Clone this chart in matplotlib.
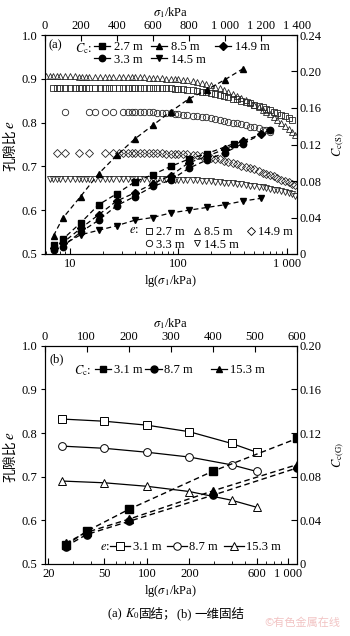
import matplotlib
matplotlib.use("Agg")
import matplotlib.pyplot as plt
from matplotlib.lines import Line2D
from matplotlib.offsetbox import TextArea, HPacker, AnnotationBbox
from matplotlib.ticker import FixedLocator, FixedFormatter, LogLocator, NullFormatter

plt.rcParams["font.family"] = ["Liberation Serif", "Noto Sans CJK SC"]
plt.rcParams["mathtext.fontset"] = "stix"
plt.rcParams["font.size"] = 9
CJK = ["Noto Sans CJK SC", "DejaVu Sans"]

# ---------------- (a) K0 consolidation ----------------
# void ratio e vs sigma1 (log axis)
k0_sigma = [6, 6.5, 7, 7.5, 8, 9, 10, 11, 12, 13, 14, 15, 17, 19, 21, 23, 25, 28, 31, 34,
            37, 40, 44, 48, 53, 58, 64, 70, 77, 85, 93, 100, 110, 120, 135, 150, 165, 180, 200, 220,
            240, 265, 290, 320, 350, 380, 420, 460, 500, 550, 600, 650, 700, 760, 820, 890, 960, 1040, 1120, 1200]

e_sig_85 = k0_sigma
e_85 = [0.906, 0.906, 0.906, 0.906, 0.906, 0.906, 0.906, 0.906, 0.905, 0.905, 0.905, 0.905, 0.905, 0.905,
        0.905, 0.905, 0.905, 0.904, 0.904, 0.904, 0.904, 0.903, 0.903, 0.903, 0.902, 0.902, 0.901, 0.901,
        0.900, 0.900, 0.899, 0.899, 0.898, 0.897, 0.895, 0.893, 0.891, 0.888, 0.885, 0.882, 0.879, 0.874,
        0.870, 0.866, 0.861, 0.857, 0.851, 0.846, 0.840, 0.835, 0.829, 0.824, 0.819, 0.813, 0.806, 0.799,
        0.792, 0.785, 0.778, 0.771]

e_sig_145 = k0_sigma[1:]
e_145 = [0.672] * 25 + [0.671, 0.671, 0.671, 0.670, 0.670, 0.670, 0.670, 0.669, 0.669, 0.668, 0.667,
                        0.667, 0.666, 0.665, 0.664, 0.663, 0.662, 0.661, 0.660, 0.659, 0.658, 0.656,
                        0.655, 0.654, 0.652, 0.651, 0.649, 0.647, 0.645, 0.643, 0.641, 0.639, 0.636, 0.633]

e_sig_27 = k0_sigma[2:59]
e_27 = [0.880] * 24 + [0.879, 0.879, 0.878, 0.878, 0.877, 0.877, 0.876, 0.875, 0.874, 0.872, 0.871,
                       0.869, 0.867, 0.865, 0.863, 0.860, 0.858, 0.855, 0.853, 0.850, 0.847, 0.844,
                       0.841, 0.838, 0.835, 0.831, 0.828, 0.825, 0.821, 0.817, 0.814, 0.810, 0.806]

e_sig_33 = [9, 15, 17, 21, 25] + k0_sigma[18:53]
e_33 = [0.825] * 11 + [0.824, 0.824, 0.823, 0.822, 0.822, 0.821, 0.820, 0.819, 0.818, 0.817, 0.816,
                       0.814, 0.813, 0.812, 0.810, 0.808, 0.806, 0.804, 0.802, 0.800, 0.798, 0.796,
                       0.794, 0.791, 0.789, 0.787, 0.784, 0.782, 0.779]

e_sig_149 = [7.5, 9, 12, 15, 21] + k0_sigma[16:]
e_149 = [0.731] * 11 + [0.730, 0.730, 0.730, 0.730, 0.730, 0.730, 0.729, 0.729, 0.729, 0.729,
                        0.728, 0.728, 0.727, 0.725, 0.724, 0.722, 0.720, 0.718, 0.716, 0.713, 0.710,
                        0.708, 0.705, 0.702, 0.699, 0.696, 0.693, 0.689, 0.686, 0.683, 0.680, 0.677,
                        0.674, 0.670, 0.667, 0.664, 0.660, 0.657]

# compression index Cc(S) vs sigma1 (linear top axis)
cc_sig_27 = [50, 100, 200, 300, 400, 500, 600, 700, 800, 900, 1050]
cc_27 = [0.010, 0.016, 0.034, 0.054, 0.066, 0.079, 0.087, 0.096, 0.104, 0.110, 0.121]
cc_sig_33 = [50, 100, 200, 300, 400, 500, 600, 700, 800, 900, 1000, 1100, 1250]
cc_33 = [0.004, 0.008, 0.024, 0.037, 0.053, 0.063, 0.074, 0.081, 0.094, 0.103, 0.111, 0.121, 0.136]
cc_sig_85 = [50, 100, 200, 300, 400, 500, 600, 700, 800, 900, 1000, 1100]
cc_85 = [0.020, 0.039, 0.063, 0.088, 0.108, 0.126, 0.141, 0.156, 0.170, 0.180, 0.191, 0.203]
cc_sig_145 = [50, 100, 200, 300, 400, 500, 600, 700, 800, 900, 1000, 1100, 1200]
cc_145 = [0.006, 0.010, 0.021, 0.026, 0.031, 0.037, 0.040, 0.045, 0.048, 0.051, 0.054, 0.058, 0.061]
cc_sig_149 = [50, 100, 200, 300, 400, 500, 600, 700, 800, 900, 1000, 1100, 1200]
cc_149 = [0.007, 0.012, 0.028, 0.043, 0.058, 0.067, 0.077, 0.086, 0.100, 0.107, 0.115, 0.124, 0.131]

# ---------------- (b) 1-D consolidation ----------------
oed_sigma = [25, 50, 100, 200, 400, 600]
oed_e_31 = [0.832, 0.827, 0.818, 0.803, 0.776, 0.756]
oed_e_87 = [0.770, 0.765, 0.756, 0.745, 0.727, 0.712]
oed_e_153 = [0.690, 0.686, 0.678, 0.666, 0.646, 0.630]

oed_cc_sigma = [50, 100, 200, 400, 600]
oed_cc_31 = [0.017, 0.030, 0.050, 0.085, 0.115]
oed_cc_87 = [0.016, 0.027, 0.039, 0.063, 0.088]
oed_cc_153 = [0.019, 0.029, 0.041, 0.067, 0.091]

fig = plt.figure(figsize=(3.5, 6.36), dpi=100)
W, H = 350.0, 636.0


def rect(x0, x1, ytop, ybot):
    return [x0 / W, 1 - ybot / H, (x1 - x0) / W, (ybot - ytop) / H]


def ylabel_e(ycenter):
    # 孔隙比 + italic e, drawn as two rotated pieces
    yb = ycenter - 15
    fig.text(10 / W, 1 - yb / H, "孔隙比", rotation=90, ha="center", va="top",
             fontsize=10, family=CJK)
    fig.text(11 / W, 1 - (yb - 0.5) / H, r"$e$", rotation=90, ha="center", va="bottom", fontsize=11)


def setup(r, xlim_log, bticks, blabels, top_max, tticks, tlabels, cc_max, cticks, clabels, ccname):
    ax = fig.add_axes(r)
    ax.set_xscale("log")
    ax.set_xlim(*xlim_log)
    ax.set_ylim(0.5, 1.0)
    ax.xaxis.set_major_locator(FixedLocator(bticks))
    ax.xaxis.set_major_formatter(FixedFormatter(blabels))
    ax.xaxis.set_minor_locator(LogLocator(subs=range(2, 10)))
    ax.xaxis.set_minor_formatter(NullFormatter())
    ax.set_yticks([0.5, 0.6, 0.7, 0.8, 0.9, 1.0])
    ax.set_yticklabels(["0.5", "0.6", "0.7", "0.8", "0.9", "1.0"])
    ax.tick_params(axis="x", which="major", direction="in", length=4, pad=3, top=False)
    ax.tick_params(axis="x", which="minor", direction="in", length=2, top=False)
    ax.tick_params(axis="y", direction="out", length=3, pad=2, right=False)
    ax.set_xlabel(r"lg($\sigma_1$/kPa)", labelpad=2)

    ax2 = fig.add_axes(r, facecolor="none")
    ax2.set_xlim(0, top_max)
    ax2.set_ylim(0, cc_max)
    ax2.xaxis.set_ticks_position("top")
    ax2.xaxis.set_label_position("top")
    ax2.yaxis.set_ticks_position("right")
    ax2.yaxis.set_label_position("right")
    ax2.set_xticks(tticks)
    ax2.set_xticklabels(tlabels)
    ax2.set_yticks(cticks)
    ax2.set_yticklabels(clabels)
    ax2.tick_params(axis="x", direction="in", length=4, pad=2)
    ax2.tick_params(axis="y", direction="in", length=4, pad=2)
    ax2.set_xlabel(r"$\sigma_1$/kPa", labelpad=3)
    ax2.set_ylabel(ccname, labelpad=6)
    return ax, ax2


# ---- panel (a)
axa, axa2 = setup(rect(44.5, 297, 35, 254), (5.8, 1245), [10, 100, 1000], ["10", "100", "1 000"],
                  1400, [0, 200, 400, 600, 800, 1000, 1200, 1400],
                  ["0", "200", "400", "600", "800", "1 000", "1 200", "1 400"],
                  0.24, [0, 0.04, 0.08, 0.12, 0.16, 0.20, 0.24],
                  ["0", "0.04", "0.08", "0.12", "0.16", "0.20", "0.24"], r"$C_{\mathrm{c(S)}}$")
ylabel_e(144.5)

open_kw = dict(ls="none", mfc="none", mec="0.15", mew=0.6, ms=4.6)
axa.plot(e_sig_27, e_27, marker="s", **open_kw)
axa.plot(e_sig_33, e_33, marker="o", **open_kw)
axa.plot(e_sig_85, e_85, marker="^", **open_kw)
axa.plot(e_sig_145, e_145, marker="v", **open_kw)
axa.plot(e_sig_149, e_149, marker="D", **dict(open_kw, ms=4.0))

dash = (0, (4, 2.5))
fill_kw = dict(color="k", ls=dash, lw=0.9, ms=4.6)
axa2.plot(cc_sig_27, cc_27, marker="s", **fill_kw)
axa2.plot(cc_sig_33, cc_33, marker="o", **fill_kw)
axa2.plot(cc_sig_85, cc_85, marker="^", **fill_kw)
axa2.plot(cc_sig_145, cc_145, marker="v", **fill_kw)
axa2.plot(cc_sig_149, cc_149, marker="D", **dict(fill_kw, ms=4.0))

axa2.text(0.015, 0.955, "(a)", transform=axa2.transAxes, va="center", ha="left")
axa2.text(0.12, 0.94, r"$C_{\mathrm{c}}$:", transform=axa2.transAxes, va="center", ha="left")
h_cc = [Line2D([], [], color="k", lw=0.9, marker=m, ms=ms) for m, ms in
        [("s", 4.6), ("o", 4.6), ("^", 4.6), ("v", 4.6), ("D", 4.0)]]
h_e = [Line2D([], [], ls="none", marker=m, mfc="none", mec="k", mew=0.6, ms=ms) for m, ms in
       [("s", 4.6), ("o", 4.6), ("^", 4.6), ("v", 4.6), ("D", 4.0)]]
depths_a = ["2.7 m", "3.3 m", "8.5 m", "14.5 m", "14.9 m"]

lg1 = axa2.legend(h_cc, depths_a, ncol=3, loc="upper left",
                  bbox_to_anchor=(0.195, 0.972), frameon=False, handlelength=1.3, handletextpad=0.3,
                  columnspacing=0.7, labelspacing=0.05, borderpad=0, borderaxespad=0)
axa2.add_artist(lg1)
axa2.text(0.335, 0.11, r"$e$:", transform=axa2.transAxes, va="center", ha="left")
axa2.legend(h_e, depths_a, ncol=3, loc="lower left",
            bbox_to_anchor=(0.395, 0.015), frameon=False, handlelength=0.7, handletextpad=0.25,
            columnspacing=0.6, labelspacing=0.05, borderpad=0, borderaxespad=0)

# ---- panel (b)
axb, axb2 = setup(rect(44.5, 297, 345.7, 564), (18.8, 1160), [20, 50, 100, 200, 600, 1000],
                  ["20", "50", "100", "200", "600", "1 000"],
                  600, [0, 100, 200, 300, 400, 500, 600],
                  ["0", "100", "200", "300", "400", "500", "600"],
                  0.20, [0, 0.04, 0.08, 0.12, 0.16, 0.20],
                  ["0", "0.04", "0.08", "0.12", "0.16", "0.20"], r"$C_{\mathrm{c(G)}}$")
ylabel_e(455)

ob_kw = dict(color="k", lw=0.9, mfc="white", mec="k", mew=0.7, ms=5.6)
axb.plot(oed_sigma, oed_e_31, marker="s", **ob_kw)
axb.plot(oed_sigma, oed_e_87, marker="o", **ob_kw)
axb.plot(oed_sigma, oed_e_153, marker="^", **ob_kw)

fb_kw = dict(color="k", ls=dash, lw=1.0, ms=5.2)
axb2.plot(oed_cc_sigma, oed_cc_31, marker="s", **fb_kw)
axb2.plot(oed_cc_sigma, oed_cc_87, marker="o", **fb_kw)
axb2.plot(oed_cc_sigma, oed_cc_153, marker="^", **fb_kw)

axb2.text(0.02, 0.94, "(b)", transform=axb2.transAxes, va="center", ha="left")
axb2.text(0.115, 0.888, r"$C_{\mathrm{c}}$:", transform=axb2.transAxes, va="center", ha="left")
hb_cc = [Line2D([], [], color="k", lw=0.9, marker=m, ms=5.0) for m in ["s", "o", "^"]]
depths_b = ["3.1 m", "8.7 m", "15.3 m"]
leg_kw = dict(frameon=False, handlelength=1.3, handletextpad=0.2, borderpad=0, borderaxespad=0)
lgb1 = axb2.legend(hb_cc[:2], depths_b[:2], ncol=2, loc="center left",
                   bbox_to_anchor=(0.2, 0.888), columnspacing=0.25, **leg_kw)
axb2.add_artist(lgb1)
lgb2 = axb2.legend(hb_cc[2:], depths_b[2:], loc="center left",
                   bbox_to_anchor=(0.66, 0.888), **leg_kw)
axb2.add_artist(lgb2)

axb2.text(0.22, 0.078, r"$e$:", transform=axb2.transAxes, va="center", ha="left")
hb_e = [Line2D([], [], color="k", lw=0.9, marker=m, mfc="white", mec="k", mew=0.7, ms=5.4)
        for m in ["s", "o", "^"]]
axb2.legend(hb_e, depths_b, ncol=3, loc="center left",
            bbox_to_anchor=(0.26, 0.078), frameon=False, handlelength=1.6, handletextpad=0.2,
            columnspacing=0.45, borderpad=0, borderaxespad=0)

# caption
cap_parts = [("(a) ", None), (r"$K_0$", None), ("固结；", CJK), ("(b) ", None), ("一维固结", CJK)]
areas = []
for s, fam in cap_parts:
    tp = dict(fontsize=9, color="k")
    if fam:
        tp["family"] = fam
    areas.append(TextArea(s, textprops=tp))
cap = HPacker(children=areas, align="baseline", pad=0, sep=0)
fig.add_artist(AnnotationBbox(cap, (176 / W, 1 - 614 / H), xycoords="figure fraction",
                              frameon=False, box_alignment=(0.5, 0.5)))
fig.text(302 / W, 1 - 623 / H, "©有色金属在线", ha="center", va="center", fontsize=8,
         color="#f2c4c4", family=CJK)

fig.savefig("out.png", dpi=100)
